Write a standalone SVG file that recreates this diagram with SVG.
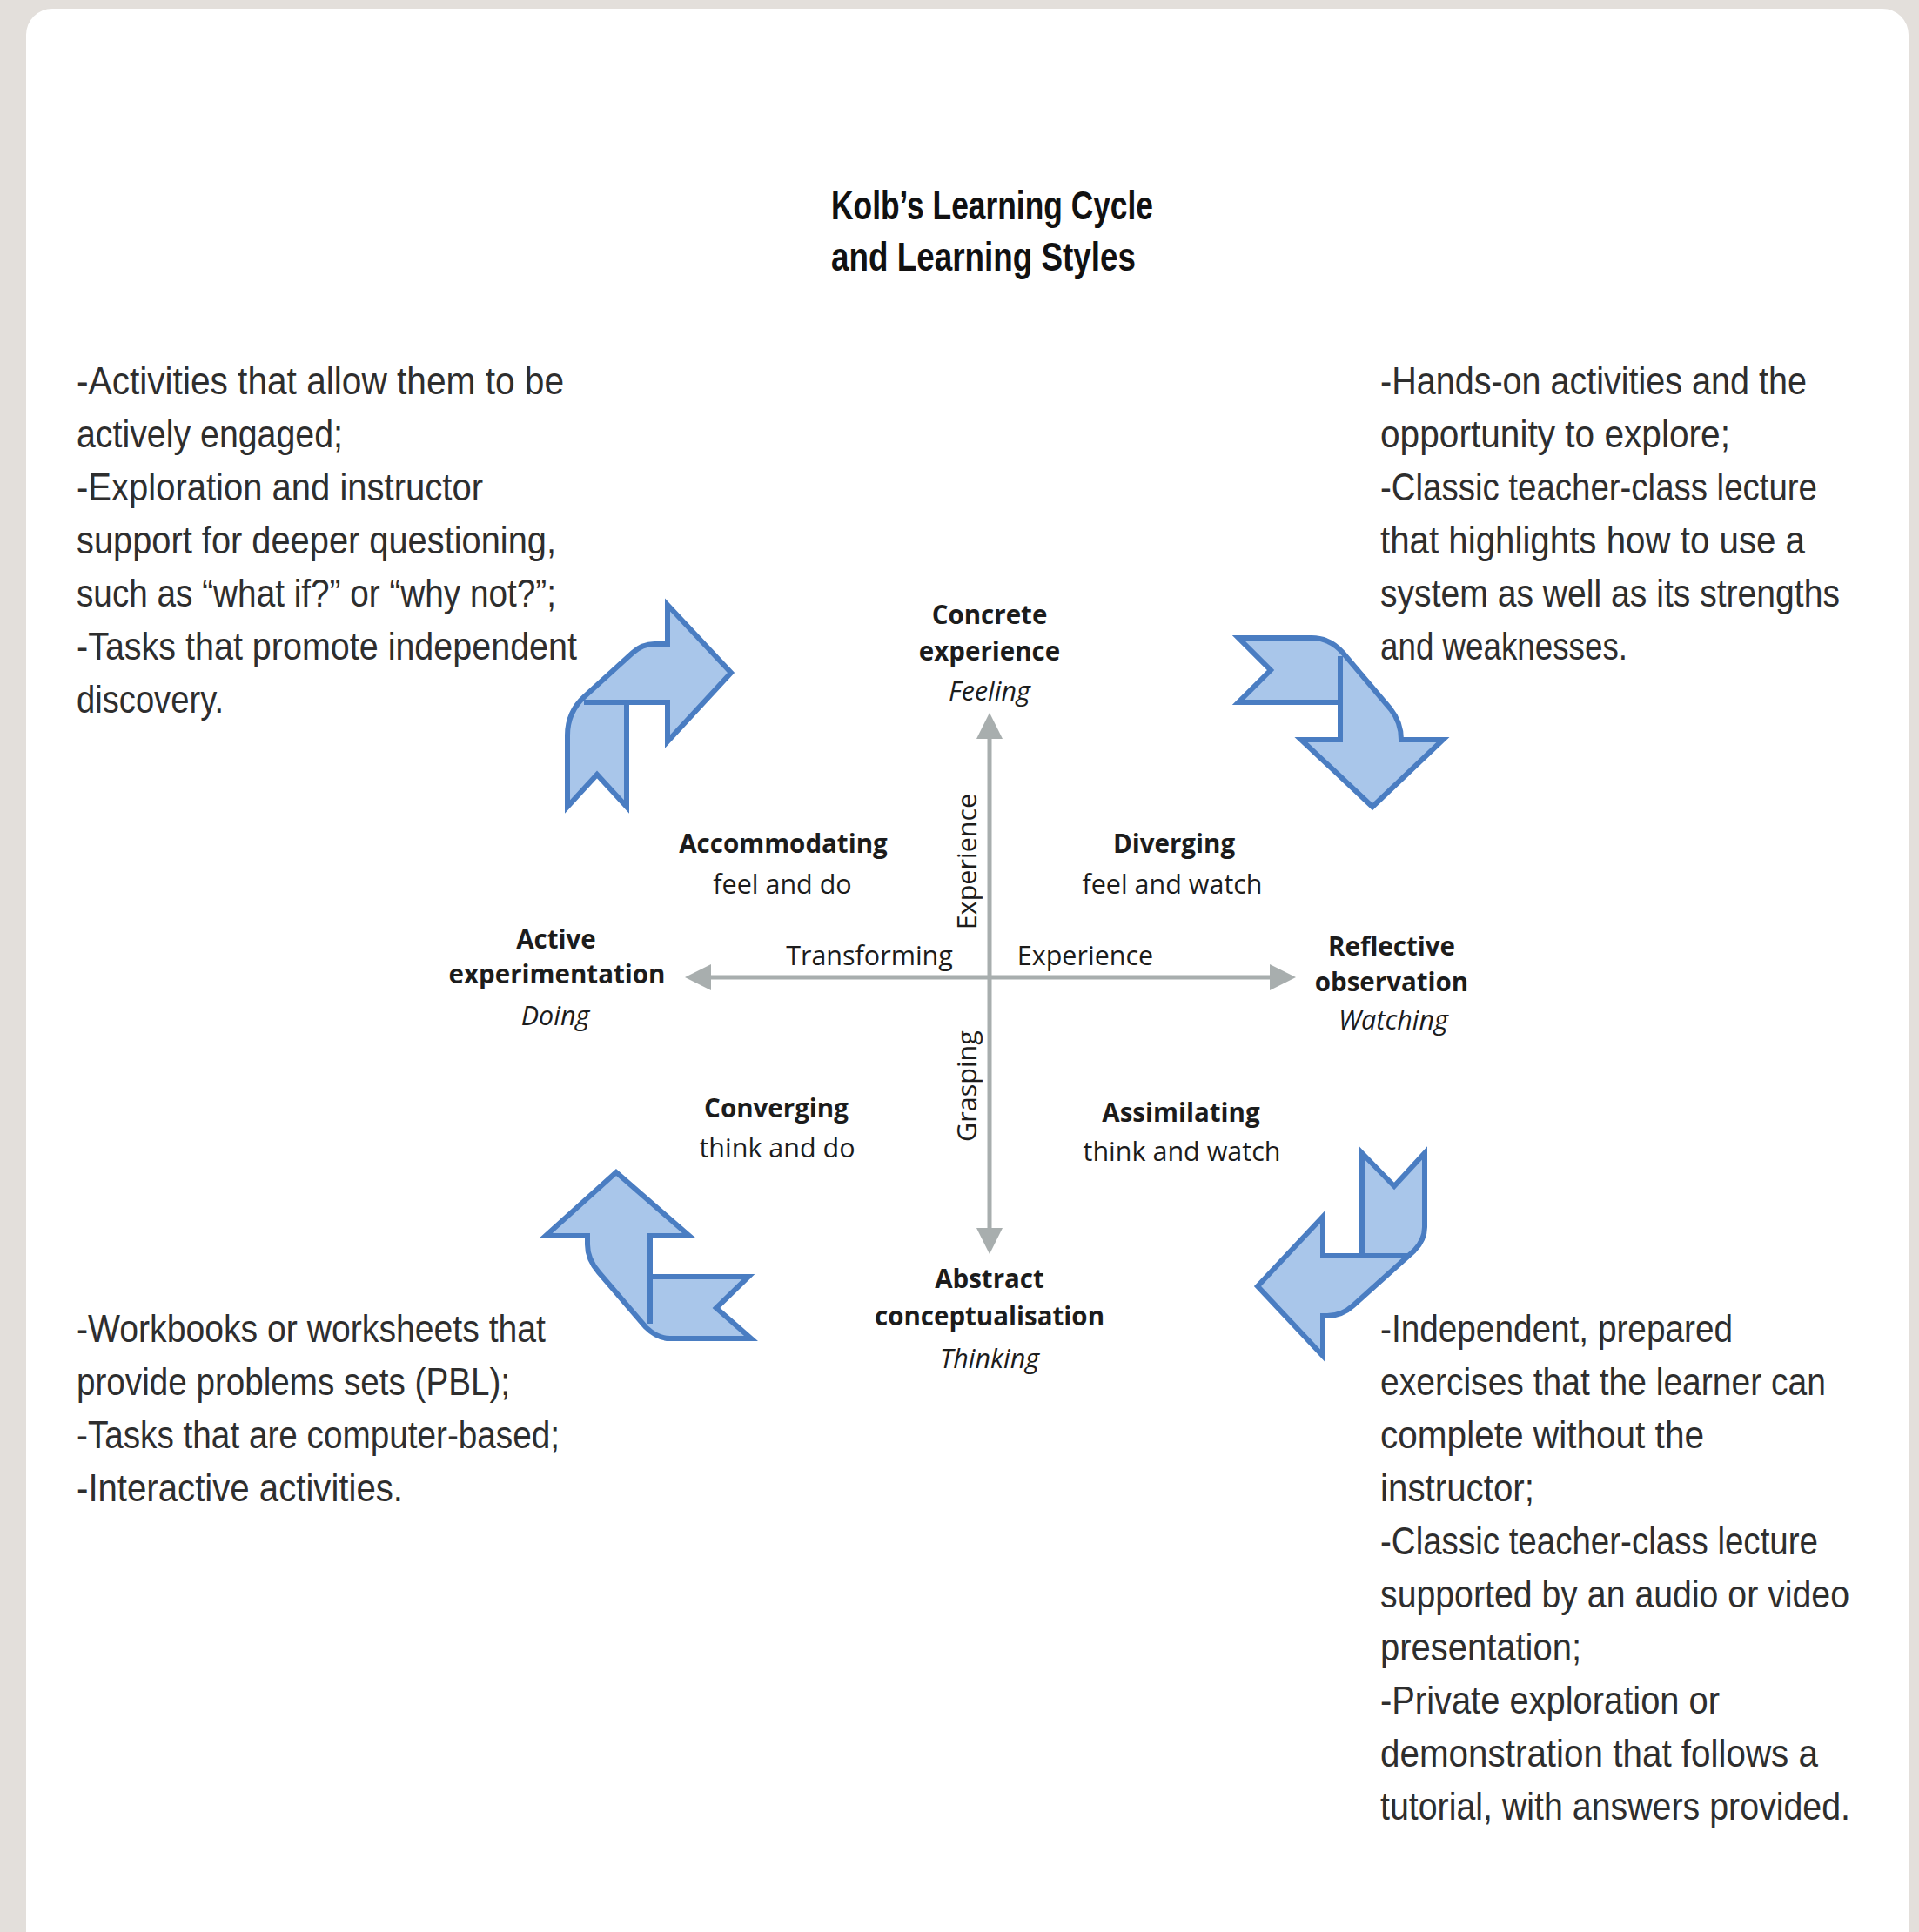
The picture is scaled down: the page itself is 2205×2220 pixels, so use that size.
<svg xmlns="http://www.w3.org/2000/svg" width="2205" height="2220" viewBox="0 0 2205 2220">
  <defs>
    <style>
      .body { font-family: "Liberation Sans", "Noto Sans", sans-serif; font-size: 44px; fill: #2e2e2e; }
      .title { font-family: "Liberation Sans", "Noto Sans", sans-serif; font-size: 47px; font-weight: bold; fill: #111; }
      .lbl { font-family: "Open Sans", "Liberation Sans", sans-serif; font-size: 30.5px; fill: #1c1c1c; text-anchor: middle; }
      .b { font-weight: bold; font-size: 29.5px; }
      .i { font-style: italic; }
      .axis { stroke: #a8aeae; stroke-width: 5; fill: none; marker-start: url(#head); marker-end: url(#head); }
      .band { fill: #a9c6ea; stroke: #4a7dc2; stroke-width: 6; stroke-linejoin: miter; }
      .fold { fill: none; stroke: #4a7dc2; stroke-width: 6; }
    </style>
    <marker id="head" markerUnits="userSpaceOnUse" markerWidth="32" markerHeight="32" refX="1" refY="15" orient="auto-start-reverse">
      <path d="M0,0 L30,15 L0,30 Z" fill="#a8aeae"/>
    </marker>
  </defs>

  <!-- page background and card -->
  <rect x="0" y="0" width="2205" height="2220" fill="#e3dfdb"/>
  <rect x="30" y="10" width="2163" height="2260" rx="30" ry="30" fill="#ffffff"/>

  <!-- title -->
  <g id="title">
    <text class="title" x="955" y="252" textLength="370" lengthAdjust="spacingAndGlyphs">Kolb’s Learning Cycle</text>
    <text class="title" x="955" y="311" textLength="350" lengthAdjust="spacingAndGlyphs">and Learning Styles</text>
  </g>

  <!-- axes -->
  <g id="connectors">
    <line class="axis" x1="1137" y1="848" x2="1137" y2="1412"/>
    <line class="axis" x1="816" y1="1123" x2="1460" y2="1123"/>
  </g>

  <!-- cycle arrows -->
  <g id="arrow-accommodating">
    <path class="band" d="M767,740 L752,740 Q738,740 727,750 L672,800 Q652,818 652,845 L652,927 L686,890 L720,927 L720,807 L767,807 L767,852 L840,773 L767,695 Z"/>
    <path class="fold" d="M671,807 L720,807"/>
  </g>
  <g id="arrow-diverging">
    <path class="band" d="M1423,733 L1507,733 Q1528,733 1543,750 L1598,815 Q1610,830 1610,850 L1658,850 L1577,927 L1495,850 L1540,850 L1540,807 L1423,807 L1460,770 Z"/>
    <path class="fold" d="M1540,807 L1540,754"/>
  </g>
  <g id="arrow-converging">
    <path class="band" d="M708,1347 L792,1420 L747,1420 L747,1467 L860,1467 L823,1503 L863,1538 L770,1538 Q755,1538 742,1525 L688,1462 Q675,1447 675,1430 L675,1420 L627,1420 Z"/>
    <path class="fold" d="M747,1467 L747,1521"/>
  </g>
  <g id="arrow-assimilating">
    <path class="band" d="M1565,1325 L1602,1363 L1637,1325 L1637,1410 Q1637,1425 1625,1437 L1555,1500 Q1542,1512 1525,1512 L1520,1512 L1520,1558 L1445,1478 L1520,1398 L1520,1443 L1565,1443 Z"/>
    <path class="fold" d="M1565,1443 L1617,1443"/>
  </g>

  <!-- poles -->
  <g id="concrete-experience">
    <text class="lbl b" x="1137" y="717">Concrete</text>
    <text class="lbl b" x="1137" y="759">experience</text>
    <text class="lbl i" x="1137" y="805">Feeling</text>
  </g>
  <g id="active-experimentation">
    <text class="lbl b" x="639" y="1090">Active</text>
    <text class="lbl b" x="640" y="1130">experimentation</text>
    <text class="lbl i" x="638" y="1178">Doing</text>
  </g>
  <g id="reflective-observation">
    <text class="lbl b" x="1599" y="1098">Reflective</text>
    <text class="lbl b" x="1599" y="1139">observation</text>
    <text class="lbl i" x="1601" y="1183">Watching</text>
  </g>
  <g id="abstract-conceptualisation">
    <text class="lbl b" x="1137" y="1480">Abstract</text>
    <text class="lbl b" x="1137" y="1523">conceptualisation</text>
    <text class="lbl i" x="1137" y="1572">Thinking</text>
  </g>

  <!-- styles -->
  <g id="accommodating">
    <text class="lbl b" x="900" y="980">Accommodating</text>
    <text class="lbl" x="899" y="1027">feel and do</text>
  </g>
  <g id="diverging">
    <text class="lbl b" x="1349" y="980">Diverging</text>
    <text class="lbl" x="1347" y="1027">feel and watch</text>
  </g>
  <g id="converging">
    <text class="lbl b" x="892" y="1284">Converging</text>
    <text class="lbl" x="893" y="1330">think and do</text>
  </g>
  <g id="assimilating">
    <text class="lbl b" x="1357" y="1289">Assimilating</text>
    <text class="lbl" x="1358" y="1334">think and watch</text>
  </g>

  <!-- axis captions -->
  <g id="axis-labels">
    <text class="lbl" x="999" y="1109">Transforming</text>
    <text class="lbl" x="1247" y="1109">Experience</text>
    <text class="lbl" transform="translate(1122,990) rotate(-90)">Experience</text>
    <text class="lbl" transform="translate(1122,1248) rotate(-90)">Grasping</text>
  </g>

  <!-- notes per style -->
  <g id="notes-accommodating">
    <text class="body" x="88" y="453" textLength="560" lengthAdjust="spacingAndGlyphs">-Activities that allow them to be</text>
    <text class="body" x="88" y="514" textLength="306" lengthAdjust="spacingAndGlyphs">actively engaged;</text>
    <text class="body" x="88" y="575" textLength="467" lengthAdjust="spacingAndGlyphs">-Exploration and instructor</text>
    <text class="body" x="88" y="636" textLength="551" lengthAdjust="spacingAndGlyphs">support for deeper questioning,</text>
    <text class="body" x="88" y="697" textLength="551" lengthAdjust="spacingAndGlyphs">such as “what if?” or “why not?”;</text>
    <text class="body" x="88" y="758" textLength="575" lengthAdjust="spacingAndGlyphs">-Tasks that promote independent</text>
    <text class="body" x="88" y="819" textLength="169" lengthAdjust="spacingAndGlyphs">discovery.</text>
  </g>
  <g id="notes-diverging">
    <text class="body" x="1586" y="453" textLength="490" lengthAdjust="spacingAndGlyphs">-Hands-on activities and the</text>
    <text class="body" x="1586" y="514" textLength="402" lengthAdjust="spacingAndGlyphs">opportunity to explore;</text>
    <text class="body" x="1586" y="575" textLength="502" lengthAdjust="spacingAndGlyphs">-Classic teacher-class lecture</text>
    <text class="body" x="1586" y="636" textLength="488" lengthAdjust="spacingAndGlyphs">that highlights how to use a</text>
    <text class="body" x="1586" y="697" textLength="528" lengthAdjust="spacingAndGlyphs">system as well as its strengths</text>
    <text class="body" x="1586" y="758" textLength="284" lengthAdjust="spacingAndGlyphs">and weaknesses.</text>
  </g>
  <g id="notes-converging">
    <text class="body" x="88" y="1542" textLength="539" lengthAdjust="spacingAndGlyphs">-Workbooks or worksheets that</text>
    <text class="body" x="88" y="1603" textLength="498" lengthAdjust="spacingAndGlyphs">provide problems sets (PBL);</text>
    <text class="body" x="88" y="1664" textLength="555" lengthAdjust="spacingAndGlyphs">-Tasks that are computer-based;</text>
    <text class="body" x="88" y="1725" textLength="375" lengthAdjust="spacingAndGlyphs">-Interactive activities.</text>
  </g>
  <g id="notes-assimilating">
    <text class="body" x="1586" y="1542" textLength="405" lengthAdjust="spacingAndGlyphs">-Independent, prepared</text>
    <text class="body" x="1586" y="1603" textLength="512" lengthAdjust="spacingAndGlyphs">exercises that the learner can</text>
    <text class="body" x="1586" y="1664" textLength="372" lengthAdjust="spacingAndGlyphs">complete without the</text>
    <text class="body" x="1586" y="1725" textLength="177" lengthAdjust="spacingAndGlyphs">instructor;</text>
    <text class="body" x="1586" y="1786" textLength="503" lengthAdjust="spacingAndGlyphs">-Classic teacher-class lecture</text>
    <text class="body" x="1586" y="1847" textLength="539" lengthAdjust="spacingAndGlyphs">supported by an audio or video</text>
    <text class="body" x="1586" y="1908" textLength="231" lengthAdjust="spacingAndGlyphs">presentation;</text>
    <text class="body" x="1586" y="1969" textLength="390" lengthAdjust="spacingAndGlyphs">-Private exploration or</text>
    <text class="body" x="1586" y="2030" textLength="503" lengthAdjust="spacingAndGlyphs">demonstration that follows a</text>
    <text class="body" x="1586" y="2091" textLength="540" lengthAdjust="spacingAndGlyphs">tutorial, with answers provided.</text>
  </g>
</svg>
